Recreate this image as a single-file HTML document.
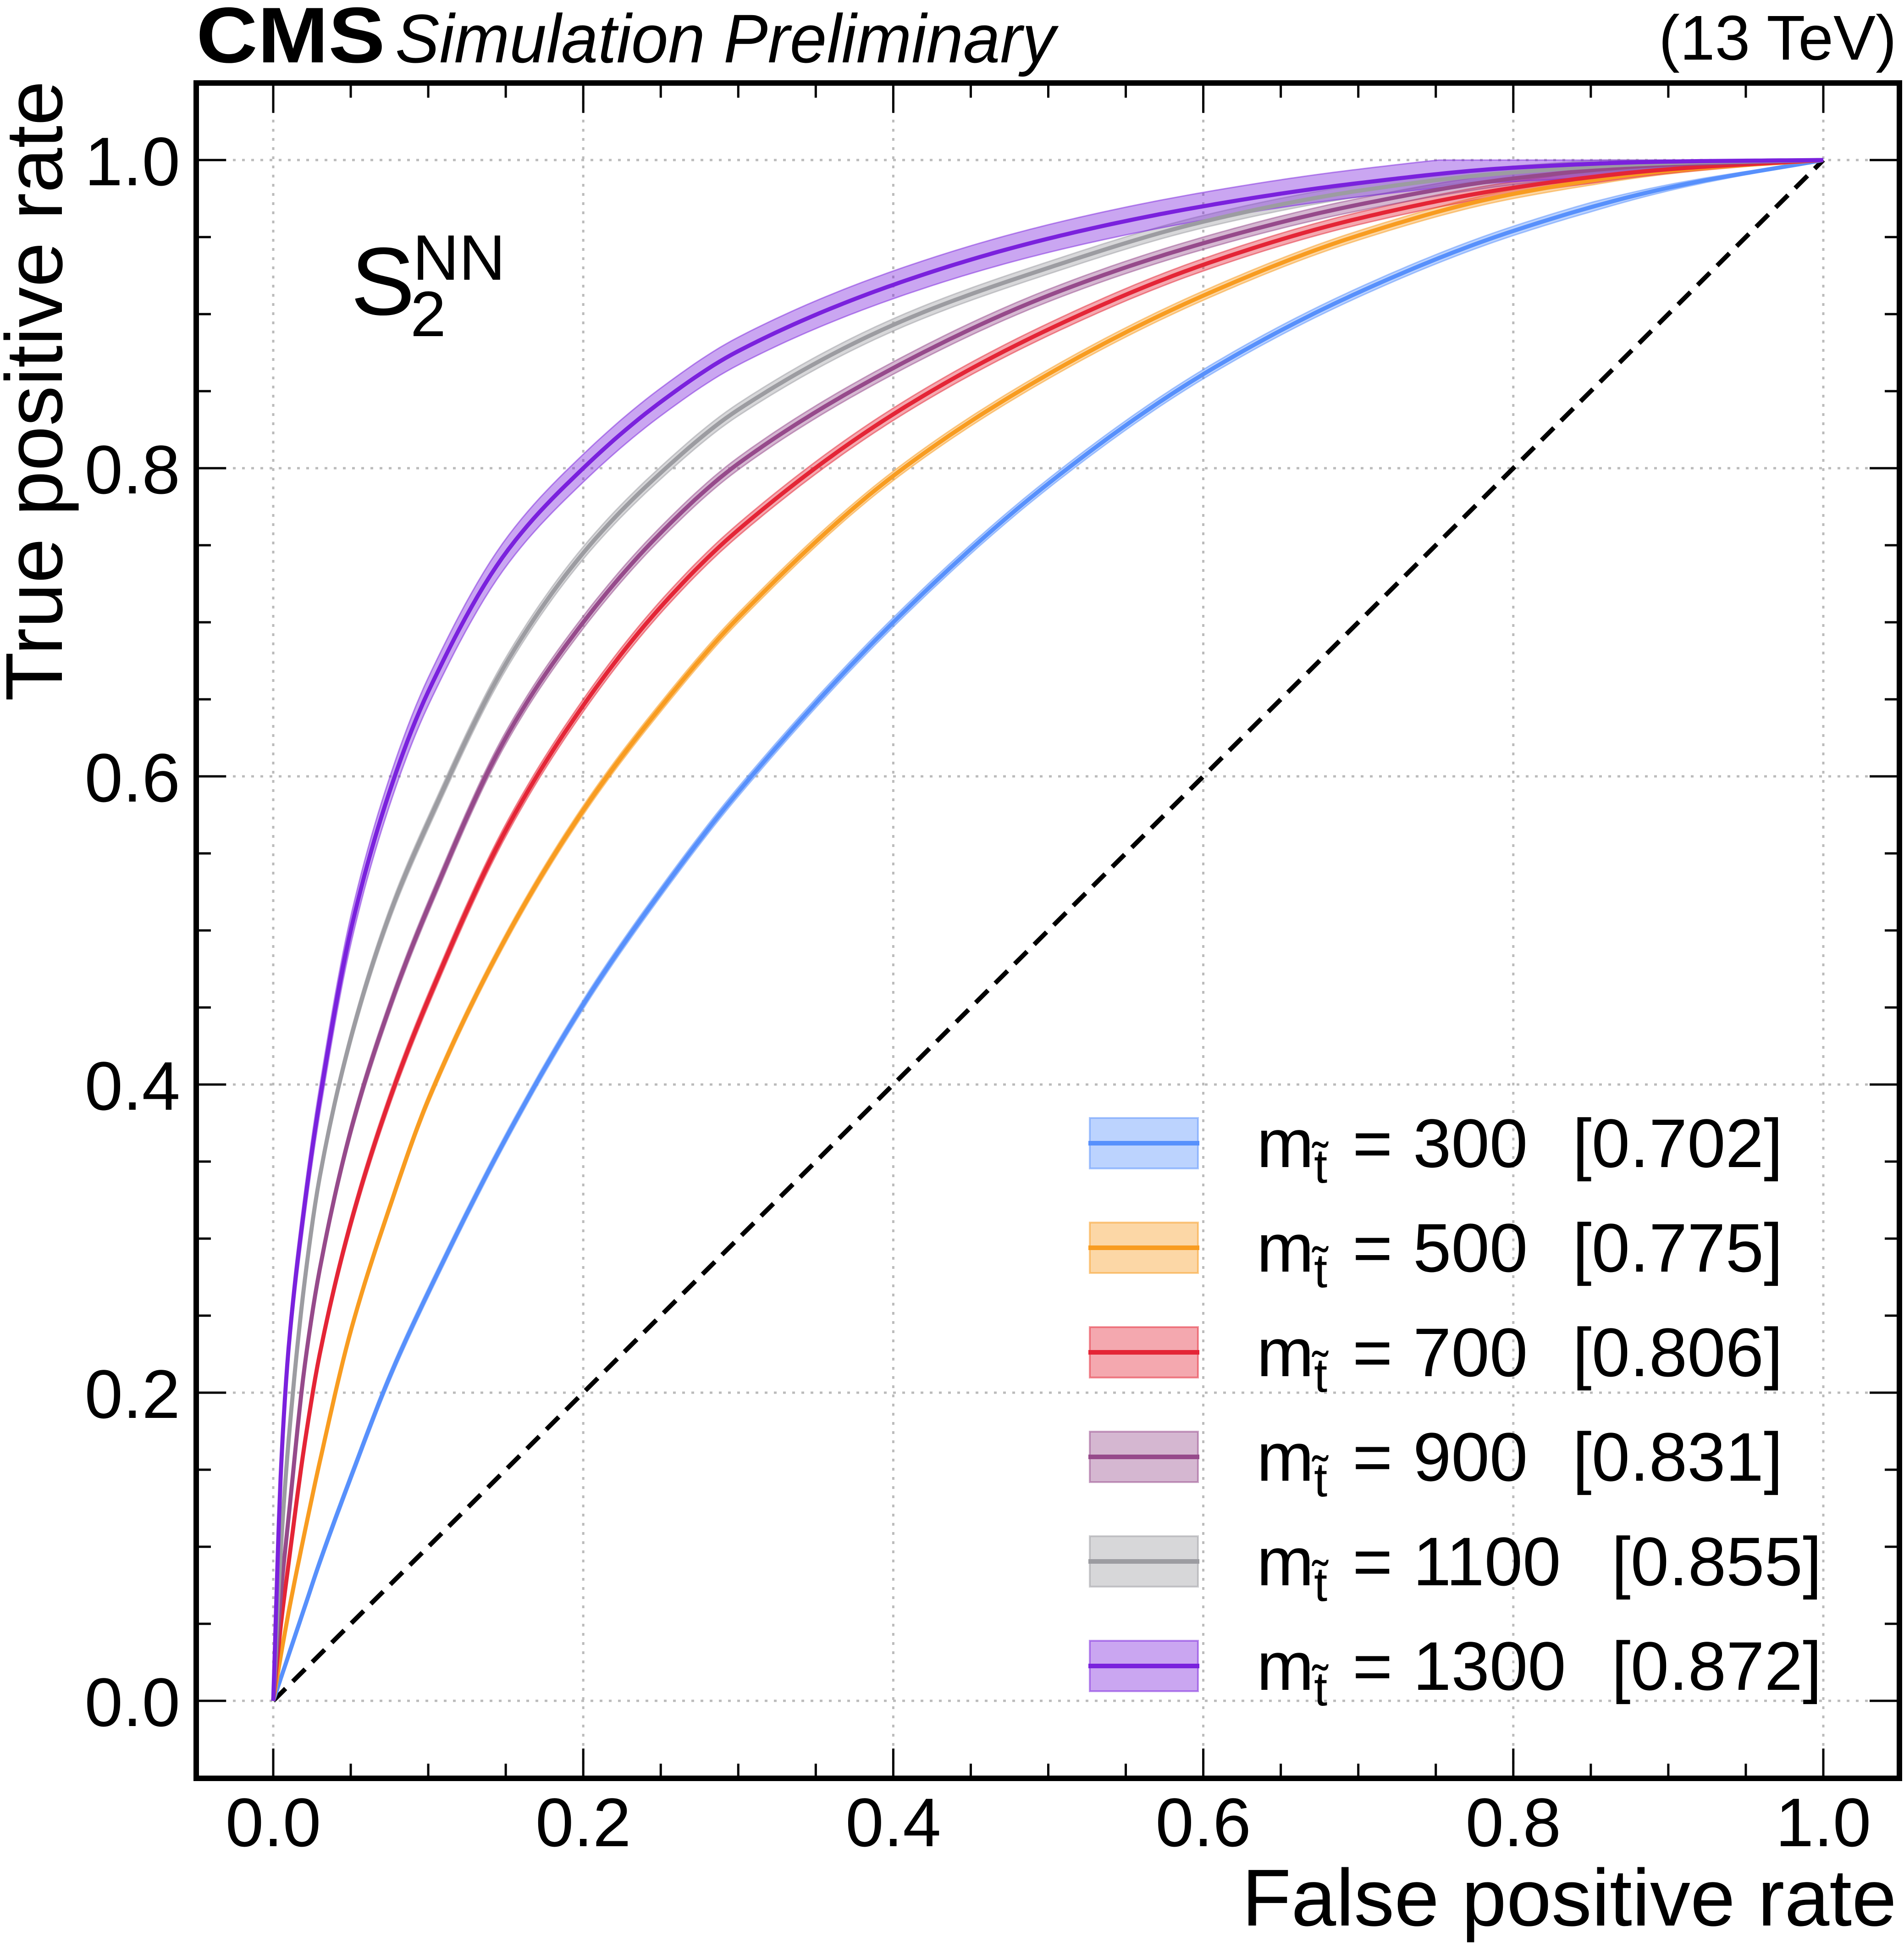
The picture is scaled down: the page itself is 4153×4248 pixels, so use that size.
<!DOCTYPE html>
<html><head><meta charset="utf-8"><style>
html,body{margin:0;padding:0;background:#fff}
svg{display:block;font-family:"Liberation Sans","DejaVu Sans",sans-serif}
</style></head><body>
<svg id="chart" width="4153" height="4248" viewBox="0 0 4153 4248" xmlns="http://www.w3.org/2000/svg">
<rect width="4153" height="4248" fill="#fff"/>
<g id="grid"></g>
<g id="bands"></g>
<line x1="596" y1="3709" x2="3977" y2="349" stroke="#000" stroke-width="10" stroke-dasharray="38,22"/>
<g id="lines"></g>
<g id="ticks"></g>
<rect x="428" y="181" width="3715" height="3697" fill="none" stroke="#000" stroke-width="12"/>
<text x="428" y="136" font-size="172" font-weight="bold" textLength="412" lengthAdjust="spacingAndGlyphs">CMS</text>
<text x="862" y="136" font-size="150" font-style="italic" textLength="1440" lengthAdjust="spacingAndGlyphs">Simulation Preliminary</text>
<text x="4137" y="130" font-size="138" text-anchor="end">(13 TeV)</text>
<text x="4137" y="4199" font-size="176" text-anchor="end">False positive rate</text>
<text transform="translate(135,176) rotate(-90)" font-size="176" text-anchor="end">True positive rate</text>
<g>
<text x="765" y="686" font-size="210">S</text>
<text x="900" y="610" font-size="140">NN</text>
<text x="895" y="733" font-size="140">2</text>
</g>
<g id="legend"></g>
</svg>
<script>
const fpr = [0,0.005,0.01,0.02,0.03,0.05,0.075,0.1,0.15,0.2,0.25,0.3,0.4,0.5,0.6,0.7,0.8,0.9,1];
const tpr300  = [0,0.015,0.03,0.06,0.09,0.145,0.21,0.265,0.365,0.452,0.525,0.59,0.70,0.79,0.861,0.914,0.954,0.982,1];
const tpr500  = [0,0.03,0.058,0.108,0.155,0.24,0.32,0.39,0.495,0.578,0.645,0.703,0.795,0.861,0.912,0.951,0.978,0.993,1];
const tpr700  = [0,0.05,0.09,0.165,0.225,0.31,0.39,0.455,0.565,0.646,0.71,0.76,0.835,0.89,0.932,0.962,0.982,0.994,1];
const tpr900  = [0,0.07,0.12,0.215,0.28,0.37,0.45,0.515,0.625,0.70,0.758,0.803,0.865,0.912,0.946,0.971,0.988,0.997,1];
const tpr1100 = [0,0.1,0.17,0.27,0.34,0.43,0.51,0.57,0.673,0.745,0.797,0.838,0.893,0.93,0.96,0.98,0.992,0.998,1];
const tpr1300 = [0,0.15,0.23,0.32,0.39,0.50,0.59,0.655,0.745,0.80,0.843,0.876,0.919,0.949,0.97,0.985,0.995,0.999,1];
const bandHalf = [0.003,0.003,0.004,0.004,0.004,0.009];
const masses = ["300","500","700","900","1100","1300"];
const aucs = ["0.702","0.775","0.806","0.831","0.855","0.872"];
const xTicks = [0,0.2,0.4,0.6,0.8,1.0];
const xTickLabels = ["0.0","0.2","0.4","0.6","0.8","1.0"];
const yTicks = [0,0.2,0.4,0.6,0.8,1.0];
const yTickLabels = ["0.0","0.2","0.4","0.6","0.8","1.0"];

const series = [tpr300,tpr500,tpr700,tpr900,tpr1100,tpr1300];
const colors = ["#5790fc","#f89c20","#e42536","#964a8b","#9c9ca1","#7a21dd"];
const NS = "http://www.w3.org/2000/svg";
const X0=596, X1=3977, Y0=3709, Y1=349;
function sx(v){return X0+(X1-X0)*v;}
function sy(v){return Y0-(Y0-Y1)*v;}
function mk(tag,attrs,parent){const e=document.createElementNS(NS,tag);for(const k in attrs)e.setAttribute(k,attrs[k]);parent.appendChild(e);return e;}

function interp(xs,ys){
  const n=xs.length,d=[],m=new Array(n).fill(0);
  for(let i=0;i<n-1;i++)d.push((ys[i+1]-ys[i])/(xs[i+1]-xs[i]));
  m[0]=d[0];m[n-1]=d[n-2];
  for(let i=1;i<n-1;i++){ if(d[i-1]*d[i]<=0)m[i]=0; else m[i]=2/(1/d[i-1]+1/d[i]); }
  return function(x){
    let i=0; while(i<n-2&&x>xs[i+1])i++;
    const h=xs[i+1]-xs[i],t=(x-xs[i])/h,t2=t*t,t3=t2*t;
    return (2*t3-3*t2+1)*ys[i]+(t3-2*t2+t)*h*m[i]+(-2*t3+3*t2)*ys[i+1]+(t3-t2)*h*m[i+1];
  };
}
const xsS=[];for(let i=0;i<=80;i++)xsS.push(0.12*Math.pow(i/80,2));
for(let i=1;i<=220;i++)xsS.push(0.12+0.88*i/220);

const grid=document.getElementById('grid');
xTicks.forEach(v=>{const l=mk('line',{x1:sx(v),x2:sx(v),y1:181,y2:3878,stroke:'#bbb','stroke-width':5,'stroke-dasharray':'6,14'},grid);
});
yTicks.forEach(v=>{const l=mk('line',{x1:428,x2:4143,y1:sy(v),y2:sy(v),stroke:'#bbb','stroke-width':5,'stroke-dasharray':'6,14'},grid);
});

const bands=document.getElementById('bands'),lines=document.getElementById('lines');
series.forEach((ys,k)=>{
  const f=interp(fpr,ys),h=bandHalf[k];
  const up=[],lo=[],mid=[];
  xsS.forEach(x=>{const y=f(x);const px=sx(x).toFixed(1);
    const hh=h*Math.min(1,x/0.01)*Math.min(1,(1-x)/0.15);
    mid.push(px+','+sy(y).toFixed(1));
    up.push(px+','+sy(Math.min(1,y+hh)).toFixed(1));
    lo.push(px+','+sy(Math.max(0,y-hh)).toFixed(1));});
  const b=mk('polygon',{points:up.concat(lo.reverse()).join(' '),fill:colors[k],'fill-opacity':0.4,stroke:colors[k],'stroke-opacity':0.5,'stroke-width':3},bands);
  
  
  const p=mk('polyline',{points:mid.join(' '),fill:'none',stroke:colors[k],'stroke-width':9,'stroke-linejoin':'round'},lines);
  
  
});

const ticks=document.getElementById('ticks');
for(let i=0;i<=20;i++){const v=i*0.05,major=i%4===0,len=major?65:32;
  const a=mk('line',{x1:sx(v),x2:sx(v),y1:3878,y2:3878-len,stroke:'#000','stroke-width':5},ticks);
  
  const b=mk('line',{x1:sx(v),x2:sx(v),y1:181,y2:181+len,stroke:'#000','stroke-width':5},ticks);
  
  const c=mk('line',{x1:428,x2:428+len,y1:sy(v),y2:sy(v),stroke:'#000','stroke-width':5},ticks);
  
  const d=mk('line',{x1:4143,x2:4143-len,y1:sy(v),y2:sy(v),stroke:'#000','stroke-width':5},ticks);
  
}
xTicks.forEach((v,i)=>{const t=mk('text',{x:sx(v),y:4026,'font-size':150,'text-anchor':'middle'},ticks);t.textContent=xTickLabels[i];
  });
yTicks.forEach((v,i)=>{const t=mk('text',{x:393,y:sy(v)+55,'font-size':150,'text-anchor':'end'},ticks);t.textContent=yTickLabels[i];
  });

const legend=document.getElementById('legend');
masses.forEach((m,k)=>{
  const cy=2493+k*228;
  const g=mk('g',{},legend);
  
  
  mk('rect',{x:2377,y:cy-55,width:236,height:110,fill:colors[k],'fill-opacity':0.4,stroke:colors[k],'stroke-opacity':0.5,'stroke-width':4},g);
  mk('line',{x1:2374,x2:2616,y1:cy,y2:cy,stroke:colors[k],'stroke-width':10},g);
  const by=cy+52;
  let t=mk('text',{x:2741,y:by,'font-size':150},g);t.textContent='m';
  t=mk('text',{x:2866,y:by+34,'font-size':105},g);t.textContent='t\u0303';
  t=mk('text',{x:2950,y:by,'font-size':150},g);t.textContent='=';
  t=mk('text',{x:3082,y:by,'font-size':150},g);t.textContent=m;
  t=mk('text',{x:m.length>3?3515:3430,y:by,'font-size':150},g);t.textContent='['+aucs[k]+']';
});
</script>
</body></html>
